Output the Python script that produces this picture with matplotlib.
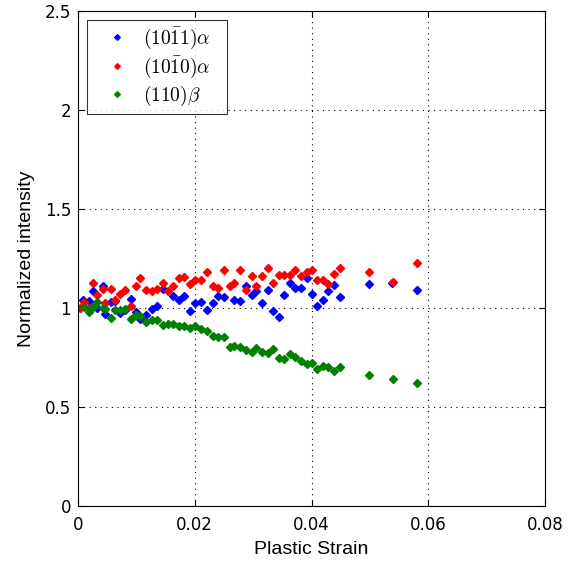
import numpy as np
import matplotlib
matplotlib.use('Agg')
from matplotlib import pyplot as plt

plt.rcParams['font.family'] = ['Liberation Sans', 'DejaVu Sans']
plt.rcParams['mathtext.fontset'] = 'cm'

# (10-11) alpha, blue
strain_b = [0.0009, 0.0018, 0.0025, 0.0032, 0.0042, 0.0047, 0.0056, 0.0064, 0.0072, 0.0080,
            0.0090, 0.0099, 0.0107, 0.0117, 0.0126, 0.0136, 0.0145, 0.0163, 0.0173, 0.0182,
            0.0191, 0.0200, 0.0210, 0.0221, 0.0231, 0.0240, 0.0250, 0.0268, 0.0277, 0.0287,
            0.0298, 0.0305, 0.0316, 0.0325, 0.0334, 0.0344, 0.0353, 0.0363, 0.0372, 0.0382,
            0.0392, 0.0401, 0.0409, 0.0419, 0.0429, 0.0438, 0.0448, 0.0499, 0.0538, 0.0580]
int_b = [1.042, 1.034, 1.084, 1.000, 1.110, 0.970, 1.030, 1.037, 0.975, 0.992,
         1.047, 0.978, 0.946, 0.963, 0.995, 1.012, 1.096, 1.062, 1.042, 1.062,
         0.987, 1.024, 1.030, 0.992, 1.024, 1.062, 1.054, 1.042, 1.037, 1.112,
         1.067, 1.084, 1.024, 1.090, 0.987, 0.955, 1.067, 1.126, 1.100, 1.100,
         1.150, 1.072, 1.012, 1.042, 1.084, 1.114, 1.054, 1.120, 1.126, 1.090]

# (10-10) alpha, red
strain_r = [0.0003, 0.0010, 0.0019, 0.0025, 0.0033, 0.0042, 0.0047, 0.0056, 0.0064, 0.0072,
            0.0080, 0.0090, 0.0099, 0.0107, 0.0117, 0.0126, 0.0136, 0.0145, 0.0154, 0.0163,
            0.0173, 0.0182, 0.0191, 0.0200, 0.0210, 0.0221, 0.0231, 0.0240, 0.0250, 0.0260,
            0.0268, 0.0277, 0.0287, 0.0298, 0.0305, 0.0316, 0.0325, 0.0334, 0.0344, 0.0353,
            0.0363, 0.0372, 0.0382, 0.0392, 0.0401, 0.0409, 0.0419, 0.0429, 0.0438, 0.0448,
            0.0499, 0.0539, 0.0580]
int_r = [1.000, 1.030, 1.000, 1.126, 1.067, 1.098, 1.024, 1.098, 1.042, 1.070,
         1.090, 1.012, 1.110, 1.150, 1.090, 1.084, 1.096, 1.126, 1.084, 1.110,
         1.150, 1.158, 1.120, 1.140, 1.140, 1.180, 1.110, 1.100, 1.190, 1.113,
         1.125, 1.194, 1.090, 1.160, 1.113, 1.160, 1.200, 1.126, 1.165, 1.168,
         1.168, 1.190, 1.160, 1.180, 1.190, 1.140, 1.140, 1.120, 1.170, 1.200,
         1.180, 1.130, 1.225]

# (110) beta, green
strain_g = [0.0010, 0.0019, 0.0025, 0.0033, 0.0042, 0.0047, 0.0056, 0.0064, 0.0072, 0.0080,
            0.0090, 0.0099, 0.0107, 0.0117, 0.0126, 0.0136, 0.0145, 0.0154, 0.0163, 0.0173,
            0.0182, 0.0191, 0.0200, 0.0210, 0.0221, 0.0231, 0.0240, 0.0250, 0.0260, 0.0268,
            0.0277, 0.0287, 0.0298, 0.0305, 0.0316, 0.0325, 0.0334, 0.0344, 0.0353, 0.0363,
            0.0372, 0.0382, 0.0392, 0.0401, 0.0409, 0.0419, 0.0429, 0.0438, 0.0448, 0.0499,
            0.0539, 0.0580]
int_g = [1.005, 0.980, 1.005, 1.030, 1.000, 0.997, 0.950, 0.992, 0.988, 0.997,
         0.944, 0.963, 0.958, 0.930, 0.938, 0.938, 0.912, 0.920, 0.920, 0.907,
         0.907, 0.900, 0.907, 0.896, 0.882, 0.857, 0.852, 0.852, 0.803, 0.810,
         0.803, 0.790, 0.776, 0.798, 0.780, 0.773, 0.793, 0.747, 0.742, 0.768,
         0.754, 0.730, 0.717, 0.722, 0.694, 0.707, 0.700, 0.680, 0.700, 0.663,
         0.643, 0.620]

labels = [r'$(10\bar{1}1)\alpha$', r'$(10\bar{1}0)\alpha$', r'$(110)\beta$']
xticks = [0, 0.02, 0.04, 0.06, 0.08]
xticklabels = ['0', '0.02', '0.04', '0.06', '0.08']
yticks = [0, 0.5, 1, 1.5, 2, 2.5]
yticklabels = ['0', '0.5', '1', '1.5', '2', '2.5']

fig = plt.figure(figsize=(5.72, 5.62), dpi=100)
ax = fig.add_axes([0.1364, 0.0996, 0.8164, 0.8808])

ax.plot(strain_b, int_b, 'D', color=(0, 0, 1), markersize=3.8, label=labels[0])
ax.plot(strain_r, int_r, 'D', color=(1, 0, 0), markersize=3.8, label=labels[1])
ax.plot(strain_g, int_g, 'D', color=(0, 0.5, 0), markersize=3.8, label=labels[2])

ax.set_xlim(0, 0.08)
ax.set_ylim(0, 2.5)
ax.set_xticks(xticks)
ax.set_xticklabels(xticklabels, family='DejaVu Sans')
ax.set_yticks(yticks)
ax.set_yticklabels(yticklabels, family='DejaVu Sans')
ax.tick_params(direction='in', top=True, right=True, labelsize=12, length=4)
ax.tick_params(axis='x', pad=7.5)
ax.tick_params(axis='y', pad=5)
ax.grid(True, linestyle=(0, (1, 4)), color='black', linewidth=0.8)
ax.set_xlabel('Plastic Strain', fontsize=14, labelpad=5)
ax.set_ylabel('Normalized intensity', fontsize=14, labelpad=7)

leg = ax.legend(loc='upper left', bbox_to_anchor=(0.0193, 0.0, 0.30, 0.982),
                mode='expand', borderaxespad=0, fontsize=14, frameon=True,
                fancybox=False, edgecolor='black', markerscale=0.75,
                handlelength=2.5, handletextpad=0.1, borderpad=0.3,
                labelspacing=0.2)
leg.get_frame().set_linewidth(0.8)

fig.savefig('out.png', dpi=100)
